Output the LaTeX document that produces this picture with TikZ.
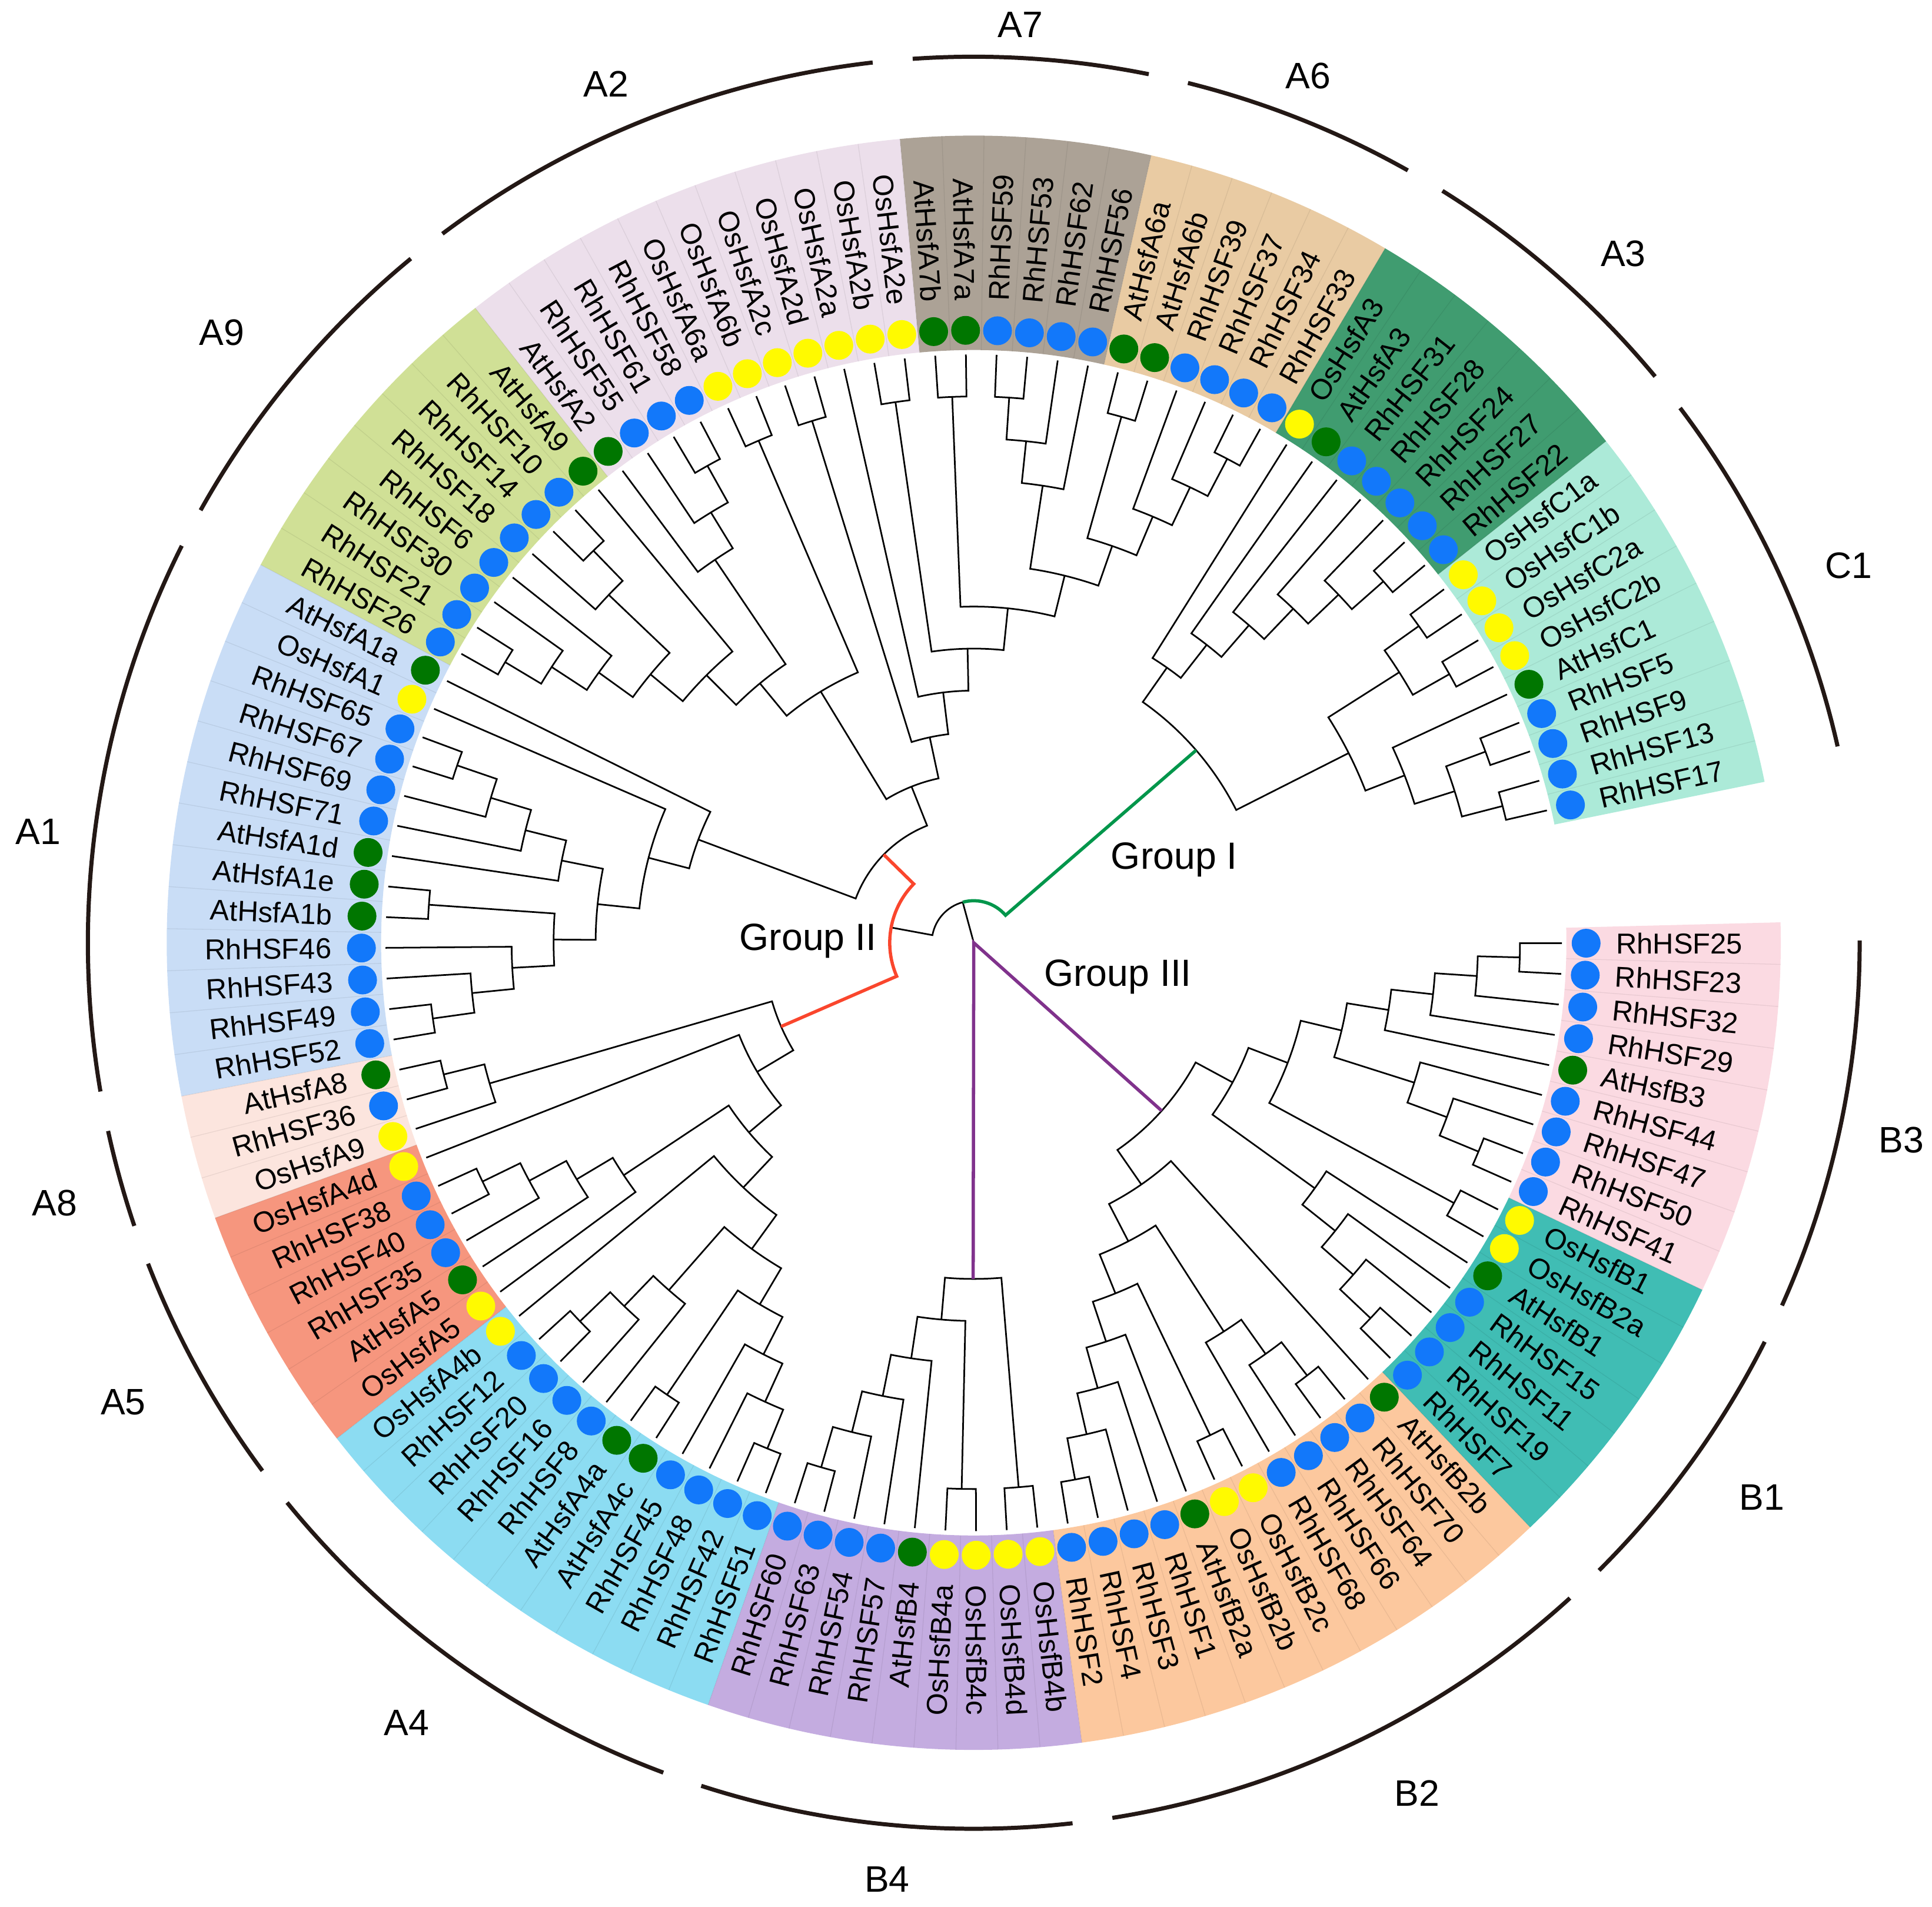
\documentclass[tikz,border=0pt]{standalone}
\usepackage{fontspec}
\setmainfont{Liberation Sans}
\definecolor{cC1}{RGB}{172,234,216}
\definecolor{cA3}{RGB}{64,156,112}
\definecolor{cA6}{RGB}{233,203,163}
\definecolor{cA7}{RGB}{172,162,150}
\definecolor{cA2}{RGB}{236,223,235}
\definecolor{cA9}{RGB}{208,224,150}
\definecolor{cA1}{RGB}{201,221,246}
\definecolor{cA8}{RGB}{252,229,222}
\definecolor{cA5}{RGB}{246,150,126}
\definecolor{cA4}{RGB}{140,220,242}
\definecolor{cB4}{RGB}{196,172,224}
\definecolor{cB2}{RGB}{252,200,158}
\definecolor{cB1}{RGB}{64,189,180}
\definecolor{cB3}{RGB}{251,218,226}
\definecolor{dotrh}{RGB}{18,120,250}
\definecolor{dotat}{RGB}{0,118,0}
\definecolor{dotos}{RGB}{255,250,0}
\definecolor{gIcol}{RGB}{0,150,75}
\definecolor{gIIcol}{RGB}{250,70,45}
\definecolor{gIIIcol}{RGB}{128,50,140}
\definecolor{ringcol}{RGB}{35,24,21}
\newcommand\TkU{0.569055}
\newcommand\TkStep{34.1}
\newcommand\TLeaf[2]{%
  \pgfmathsetmacro\TkTmp{13.0+2.991*#2}%
  \expandafter\xdef\csname tang@#1\endcsname{\TkTmp}%
  \expandafter\xdef\csname tlev@#1\endcsname{14}%
}
\newcommand\TN[4]{%
  \edef\TkCa{\csname tang@#2\endcsname}%
  \edef\TkCb{\csname tang@#3\endcsname}%
  \edef\TkLa{\csname tlev@#2\endcsname}%
  \edef\TkLb{\csname tlev@#3\endcsname}%
  \pgfmathsetmacro\TkAng{(\TkCa+\TkCb)/2}%
  \expandafter\xdef\csname tang@#1\endcsname{\TkAng}%
  \expandafter\xdef\csname tlev@#1\endcsname{#4}%
  \pgfmathsetmacro\TkRn{#4*\TkStep}%
  \pgfmathsetmacro\TkRa{\TkLa*\TkStep}%
  \pgfmathsetmacro\TkRb{\TkLb*\TkStep}%
  \pgfmathsetmacro\TkRpt{\TkRn*\TkU}%
  \draw[br] (\TkCa:\TkRa) -- (\TkCa:\TkRn) arc[start angle=\TkCa, end angle=\TkCb, radius=\TkRpt pt] -- (\TkCb:\TkRb);
}
\newcommand\Band[3]{% first idx, last idx, colour
  \pgfmathsetmacro\TkBa{13.0+2.991*#1-1.4955}%
  \pgfmathsetmacro\TkBb{13.0+2.991*#2+1.4955}%
  \pgfmathsetmacro\TkRi{481*\TkU}\pgfmathsetmacro\TkRo{655*\TkU}%
  \fill[#3] (\TkBa:481) arc[start angle=\TkBa, end angle=\TkBb, radius=\TkRi pt] -- (\TkBb:655) arc[start angle=\TkBb, end angle=\TkBa, radius=\TkRo pt] -- cycle;
}
\newcommand\Ring[5]{% first, last, label, label x, label y
  \pgfmathsetmacro\TkBa{13.0+2.991*#1-1.4955+1.3}%
  \pgfmathsetmacro\TkBb{13.0+2.991*#2+1.4955-1.3}%
  \pgfmathsetmacro\TkRo{719*\TkU}%
  \draw[ring] (\TkBa:719) arc[start angle=\TkBa, end angle=\TkBb, radius=\TkRo pt];
  \node[cladelab] (n#3) at (#4,#5) {#3};
}
\begin{document}
\begin{tikzpicture}[x=0.2mm,y=0.2mm,
  br/.style={line width=0.75pt, black, line join=miter},
  gI/.style={line width=1.5pt, gIcol},
  gII/.style={line width=1.5pt, gIIcol},
  gIII/.style={line width=1.5pt, gIIIcol},
  ring/.style={line width=1.9pt, ringcol},
  sepline/.style={line width=0.35pt, black, opacity=0.07},
  lab/.style={font=\fontsize{13.3}{16}\selectfont, inner sep=0pt},
  cladelab/.style={font=\fontsize{17}{20}\selectfont, inner sep=0pt},
  grouplab/.style={font=\fontsize{17.5}{20}\selectfont, inner sep=0pt}]
\useasboundingbox (-790.3,-782) rectangle (777.7,765);
% ---------------- colour bands
\Band{0}{8}{cC1}
\Band{9}{15}{cA3}
\Band{16}{21}{cA6}
\Band{22}{27}{cA7}
\Band{28}{38}{cA2}
\Band{39}{46}{cA9}
\Band{47}{59}{cA1}
\Band{60}{62}{cA8}
\Band{63}{68}{cA5}
\Band{69}{79}{cA4}
\Band{80}{88}{cB4}
\Band{89}{100}{cB2}
\Band{101}{107}{cB1}
\Band{108}{116}{cB3}
\foreach \i in {0,...,115}{
  \pgfmathsetmacro\sang{13.0+2.991*\i+1.4955}
  \draw[sepline] (\sang:481) -- (\sang:655);
}
% ---------------- leaves: dots and labels
\foreach \i/\nm/\cl in {0/RhHSF17/rh,1/RhHSF13/rh,2/RhHSF9/rh,3/RhHSF5/rh,4/AtHsfC1/at,5/OsHsfC2b/os,6/OsHsfC2a/os,7/OsHsfC1b/os,8/OsHsfC1a/os,
 9/RhHSF22/rh,10/RhHSF27/rh,11/RhHSF24/rh,12/RhHSF28/rh,13/RhHSF31/rh,14/AtHsfA3/at,15/OsHsfA3/os,
 16/RhHSF33/rh,17/RhHSF34/rh,18/RhHSF37/rh,19/RhHSF39/rh,20/AtHsfA6b/at,21/AtHsfA6a/at,
 22/RhHSF56/rh,23/RhHSF62/rh,24/RhHSF53/rh,25/RhHSF59/rh,26/AtHsfA7a/at,27/AtHsfA7b/at,
 28/OsHsfA2e/os,29/OsHsfA2b/os,30/OsHsfA2a/os,31/OsHsfA2d/os,32/OsHsfA2c/os,33/OsHsfA6b/os,34/OsHsfA6a/os,35/RhHSF58/rh,36/RhHSF61/rh,37/RhHSF55/rh,38/AtHsfA2/at,
 39/AtHsfA9/at,40/RhHSF10/rh,41/RhHSF14/rh,42/RhHSF18/rh,43/RhHSF6/rh,44/RhHSF30/rh,45/RhHSF21/rh,46/RhHSF26/rh,
 47/AtHsfA1a/at,48/OsHsfA1/os,49/RhHSF65/rh,50/RhHSF67/rh,51/RhHSF69/rh,52/RhHSF71/rh,53/AtHsfA1d/at,54/AtHsfA1e/at,55/AtHsfA1b/at,56/RhHSF46/rh,57/RhHSF43/rh,58/RhHSF49/rh,59/RhHSF52/rh,
 60/AtHsfA8/at,61/RhHSF36/rh,62/OsHsfA9/os,
 63/OsHsfA4d/os,64/RhHSF38/rh,65/RhHSF40/rh,66/RhHSF35/rh,67/AtHsfA5/at,68/OsHsfA5/os,
 69/OsHsfA4b/os,70/RhHSF12/rh,71/RhHSF20/rh,72/RhHSF16/rh,73/RhHSF8/rh,74/AtHsfA4a/at,75/AtHsfA4c/at,76/RhHSF45/rh,77/RhHSF48/rh,78/RhHSF42/rh,79/RhHSF51/rh,
 80/RhHSF60/rh,81/RhHSF63/rh,82/RhHSF54/rh,83/RhHSF57/rh,84/AtHsfB4/at,85/OsHsfB4a/os,86/OsHsfB4c/os,87/OsHsfB4d/os,88/OsHsfB4b/os,
 89/RhHSF2/rh,90/RhHSF4/rh,91/RhHSF3/rh,92/RhHSF1/rh,93/AtHsfB2a/at,94/OsHsfB2b/os,95/OsHsfB2c/os,96/RhHSF68/rh,97/RhHSF66/rh,98/RhHSF64/rh,99/RhHSF70/rh,100/AtHsfB2b/at,
 101/RhHSF7/rh,102/RhHSF19/rh,103/RhHSF11/rh,104/RhHSF15/rh,105/AtHsfB1/at,106/OsHsfB2a/os,107/OsHsfB1/os,
 108/RhHSF41/rh,109/RhHSF50/rh,110/RhHSF47/rh,111/RhHSF44/rh,112/AtHsfB3/at,113/RhHSF29/rh,114/RhHSF32/rh,115/RhHSF23/rh,116/RhHSF25/rh}{
  \pgfmathsetmacro\ang{13.0+2.991*\i}
  \fill[fill=dot\cl] (\ang:497) circle[radius=6.66pt];
  \pgfmathtruncatemacro\side{(\ang>90)&&(\ang<270)}
  \ifnum\side=1
    \node[lab,anchor=east,rotate=\ang-180] (t\i) at (\ang:521) {\nm};
  \else
    \node[lab,anchor=west,rotate=\ang] (t\i) at (\ang:521) {\nm};
  \fi
}
% ---------------- tree
\foreach \i in {0,...,116}{\TLeaf{l\i}{\i}}
% Group I : C1
\TN{c1a}{l0}{l1}{13}
\TN{c1b}{l2}{l3}{13}
\TN{c1c}{c1a}{c1b}{12}
\TN{c1d}{c1c}{l4}{11}
\TN{c1e}{l5}{l6}{13}
\TN{c1f}{l7}{l8}{13}
\TN{c1g}{c1e}{c1f}{12}
\TN{C1}{c1d}{c1g}{10}
% A3
\TN{a3a}{l9}{l10}{13}
\TN{a3b}{a3a}{l11}{12}
\TN{a3c}{a3b}{l12}{11}
\TN{a3d}{a3c}{l13}{10}
\TN{a3e}{a3d}{l14}{9}
\TN{A3}{a3e}{l15}{8}
\TN{G1}{C1}{A3}{7}
% Group II upper: A6, A7, A2, A9
\TN{a7a}{l24}{l25}{13}
\TN{a7b}{a7a}{l23}{12}
\TN{a7c}{a7b}{l22}{11}
\TN{a6a}{l16}{l17}{13}
\TN{a6b}{a6a}{l18}{12}
\TN{a6c}{a6b}{l19}{11}
\TN{a6d}{l20}{l21}{13}
\TN{A6}{a6c}{a6d}{10}
\TN{a76}{A6}{a7c}{9}
\TN{a7d}{l26}{l27}{13}
\TN{a7e}{a76}{a7d}{8}
\TN{a2a}{l28}{l29}{13}
\TN{a2b}{a7e}{a2a}{7}
\TN{a2c}{a2b}{l30}{6}
\TN{a2d}{l31}{l32}{13}
\TN{a2e}{a2c}{a2d}{5}
\TN{a2f}{l33}{l34}{13}
\TN{a2g}{l35}{l36}{13}
\TN{a2h}{a2g}{l37}{12}
\TN{a2i}{a2h}{l38}{11}
\TN{a9a}{l40}{l41}{13}
\TN{a9b}{a9a}{l42}{12}
\TN{a9c}{l45}{l46}{13}
\TN{a9d}{l44}{a9c}{12}
\TN{a9e}{l43}{a9d}{11}
\TN{a9f}{a9b}{a9e}{10}
\TN{A9}{l39}{a9f}{9}
\TN{a2j}{a2i}{A9}{8}
\TN{a2k}{a2f}{a2j}{7}
\TN{a2l}{a2e}{a2k}{4}
% A1
\TN{a1a}{l49}{l50}{13}
\TN{a1b}{a1a}{l51}{12}
\TN{a1c}{a1b}{l52}{11}
\TN{a1d}{a1c}{l53}{10}
\TN{a1e}{l54}{l55}{13}
\TN{a1f}{l58}{l59}{13}
\TN{a1g}{l57}{a1f}{12}
\TN{a1h}{l56}{a1g}{11}
\TN{a1i}{a1e}{a1h}{10}
\TN{a1j}{a1d}{a1i}{9}
\TN{a1k}{l48}{a1j}{8}
\TN{A1}{l47}{a1k}{7}
\TN{G2u}{a2l}{A1}{3}
% Group II lower: A8, A5, A4
\TN{a8a}{l60}{l61}{13}
\TN{A8}{a8a}{l62}{12}
\TN{a5a}{l64}{l65}{13}
\TN{a5b}{l66}{a5a}{12}
\TN{a5c}{l67}{a5b}{11}
\TN{A5}{a5c}{l68}{10}
\TN{a4a}{l70}{l71}{13}
\TN{a4b}{a4a}{l72}{12}
\TN{a4c}{a4b}{l73}{11}
\TN{a4d}{l74}{l75}{13}
\TN{a4e}{l78}{l79}{13}
\TN{a4f}{l77}{a4e}{12}
\TN{a4g}{l76}{a4f}{11}
\TN{a4h}{a4d}{a4g}{10}
\TN{a4i}{a4c}{a4h}{9}
\TN{A4}{l69}{a4i}{8}
\TN{a45}{A5}{A4}{7}
\TN{a45b}{l63}{a45}{6}
\TN{G2l}{A8}{a45b}{5}
% Group III: B4
\TN{b4a}{l80}{l81}{13}
\TN{b4b}{b4a}{l82}{12}
\TN{b4c}{b4b}{l83}{11}
\TN{b4d}{b4c}{l84}{10}
\TN{b4e}{l85}{l86}{13}
\TN{b4f}{b4d}{b4e}{9}
\TN{b4g}{l87}{l88}{13}
\TN{B4}{b4f}{b4g}{8}
% B2
\TN{b2a}{l89}{l90}{13}
\TN{b2b}{b2a}{l91}{12}
\TN{b2c}{b2b}{l92}{11}
\TN{b2d}{l93}{b2c}{10}
\TN{b2e}{l94}{l95}{13}
\TN{b2f}{b2d}{b2e}{9}
\TN{b2g}{l98}{l99}{13}
\TN{b2h}{l97}{b2g}{12}
\TN{b2i}{l96}{b2h}{11}
\TN{b2j}{b2f}{b2i}{8}
\TN{B2}{b2j}{l100}{7}
% B1, B3
\TN{b1a}{l101}{l102}{13}
\TN{b1b}{b1a}{l103}{12}
\TN{b1c}{b1b}{l104}{11}
\TN{B1}{b1c}{l105}{10}
\TN{b1d}{l106}{l107}{13}
\TN{b3a}{l108}{l109}{13}
\TN{b3b}{b3a}{l110}{12}
\TN{b3c}{l111}{b3b}{11}
\TN{b3d}{l115}{l116}{13}
\TN{b3e}{l114}{b3d}{12}
\TN{b3f}{l113}{b3e}{11}
\TN{b3g}{l112}{b3f}{10}
\TN{B3}{b3c}{b3g}{9}
\TN{b13a}{B3}{b1d}{8}
\TN{b13}{b13a}{B1}{7}
\TN{W}{B2}{b13}{6}
% ---------------- root and coloured group branches
\edef\aGone{\csname tang@G1\endcsname}
\edef\aGtu{\csname tang@G2u\endcsname}
\edef\aGtl{\csname tang@G2l\endcsname}
\edef\aBfour{\csname tang@B4\endcsname}
\edef\aW{\csname tang@W\endcsname}
\pgfmathsetmacro\aGtwo{(\aGtu+\aGtl)/2}
\pgfmathsetmacro\aX{(\aGone+\aGtwo)/2}
\pgfmathsetmacro\rA{1*\TkStep}
\pgfmathsetmacro\rB{2*\TkStep}
\pgfmathsetmacro\rC{3*\TkStep}
\pgfmathsetmacro\rE{5*\TkStep}
\pgfmathsetmacro\rF{6*\TkStep}
\pgfmathsetmacro\rG{7*\TkStep}
\pgfmathsetmacro\rH{8*\TkStep}
\pgfmathsetmacro\rApt{\rA*\TkU}
\pgfmathsetmacro\rBpt{\rB*\TkU}
\coordinate (root) at (0,0);
\coordinate (X) at (\aX:\rA);
\draw[br] (root) -- (X);
\draw[br] (X) arc[start angle=\aX, end angle=\aGtwo, radius=\rApt pt] -- (\aGtwo:\rB);
\draw[gI] (X) arc[start angle=\aX, end angle=\aGone, radius=\rApt pt] -- (\aGone:\rG);
\draw[gII] (\aGtu:\rC) -- (\aGtu:\rB) arc[start angle=\aGtu, end angle=\aGtl, radius=\rBpt pt] -- (\aGtl:\rE);
\draw[gIII] (\aBfour:\rH) -- (root) -- (\aW:\rF);
% ---------------- group labels
\node[grouplab] (gl1) at (162.7,67.3) {Group I};
\node[grouplab] (gl2) at (-134.5,1.5) {Group II};
\node[grouplab] (gl3) at (117,-27.5) {Group III};
% ---------------- outer clade arcs and names
\Ring{0}{8}{C1}{710}{305.8}
\Ring{9}{15}{A3}{527.2}{559.4}
\Ring{16}{21}{A6}{271.4}{703.3}
\Ring{22}{27}{A7}{37.7}{745}
\Ring{28}{38}{A2}{-298.3}{697}
\Ring{39}{46}{A9}{-610.3}{495}
\Ring{47}{59}{A1}{-759.2}{90.3}
\Ring{60}{62}{A8}{-746}{-211.2}
\Ring{63}{68}{A5}{-690.3}{-373}
\Ring{69}{79}{A4}{-460.3}{-633}
\Ring{80}{88}{B4}{-70.3}{-760}
\Ring{89}{100}{B2}{359.7}{-690}
\Ring{101}{107}{B1}{639.7}{-450}
\Ring{108}{116}{B3}{752.7}{-160}
\end{tikzpicture}
\end{document}
